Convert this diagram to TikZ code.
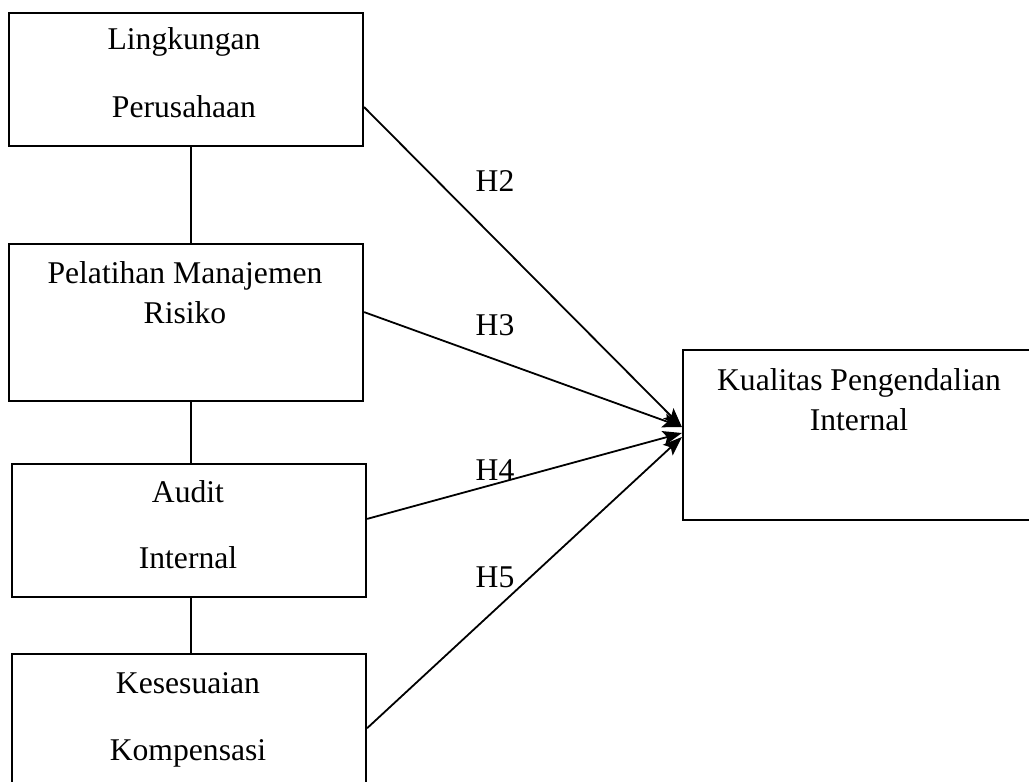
\documentclass[tikz,border=0pt]{standalone}
\usepackage{fontspec}
\setmainfont{Liberation Serif}
\usetikzlibrary{arrows.meta}

\tikzset{
    box/.style={draw, line width=0.55mm, inner sep=0pt, minimum width=8.85cm},
    txt/.style={anchor=base, inner sep=0pt, font=\fontsize{22.5}{27}\selectfont},
    link/.style={line width=0.45mm},
    hyp/.style={line width=0.45mm, -{Stealth[length=4.8mm, width=3.6mm, inset=1mm]}}
}

\begin{document}
\begin{tikzpicture}
    \useasboundingbox (0, 0) rectangle (25.725, -19.55);

    % variable boxes
    \node[box, minimum height=3.325cm] (lp) at (4.65, -1.9875) {};
    \node[box, minimum height=3.925cm] (pmr) at (4.65, -8.0625) {};
    \node[box, minimum height=3.325cm] (ai) at (4.725, -13.2625) {};
    \node[box, minimum height=3.65cm] (kk) at (4.725, -18.175) {};
    \node[box, minimum width=8.925cm, minimum height=4.25cm] (kpi) at (21.5375, -10.875) {};

    % box texts
    \node[txt] (lp1) at (4.6, -1.25) {Lingkungan};
    \node[txt] (lp2) at (4.6, -2.95) {Perusahaan};
    \node[txt] (pmr1) at (4.625, -7.075) {Pelatihan Manajemen};
    \node[txt] (pmr2) at (4.625, -8.075) {Risiko};
    \node[txt] (ai1) at (4.7, -12.55) {Audit};
    \node[txt] (ai2) at (4.7, -14.2) {Internal};
    \node[txt] (kk1) at (4.7, -17.325) {Kesesuaian};
    \node[txt] (kk2) at (4.7, -19.0) {Kompensasi};
    \node[txt] (kpi1) at (21.475, -9.75) {Kualitas Pengendalian};
    \node[txt] (kpi2) at (21.475, -10.75) {Internal};

    % vertical links between the left boxes
    \draw[link] ([xshift=1.25mm]lp.south) -- ([xshift=1.25mm]pmr.north);
    \draw[link] ([xshift=1.25mm]pmr.south) -- ([xshift=1.25mm]pmr.south |- ai.north);
    \draw[link] ([xshift=0.5mm]ai.south) -- ([xshift=0.5mm]kk.north);

    % hypotheses
    \draw[hyp] ([yshift=-0.69cm]lp.east) -- ([yshift=0.2cm]kpi.west);
    \draw[hyp] ([yshift=0.26cm]pmr.east) -- ([yshift=0.2cm]kpi.west);
    \draw[hyp] ([yshift=0.29cm]ai.east) -- ([yshift=0.05cm]kpi.west);
    \draw[hyp] ([yshift=-0.03cm]kk.east) -- ([yshift=-0.05cm]kpi.west);

    \node[txt] (h2) at (12.375, -4.8) {H2};
    \node[txt] (h3) at (12.375, -8.375) {H3};
    \node[txt] (h4) at (12.375, -12.0) {H4};
    \node[txt] (h5) at (12.375, -14.675) {H5};
\end{tikzpicture}
\end{document}
